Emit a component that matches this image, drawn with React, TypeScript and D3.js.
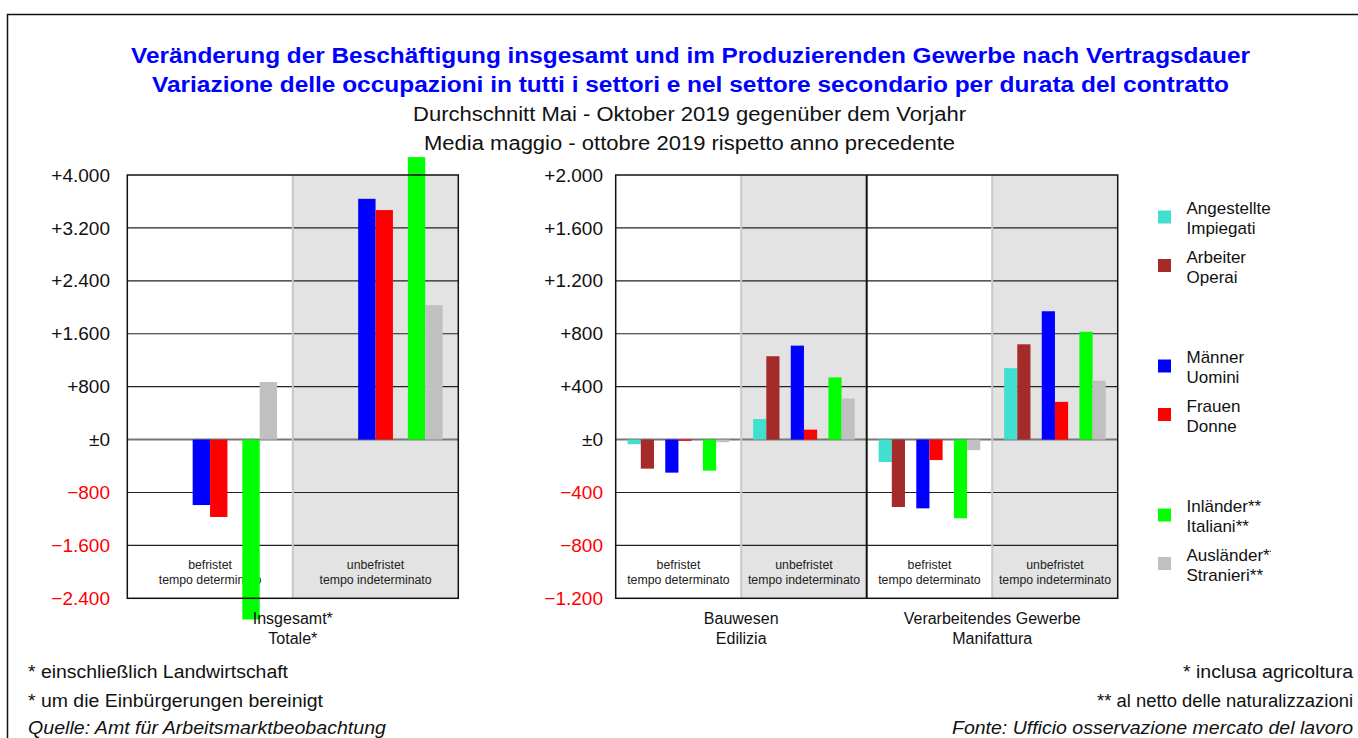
import { formatLocale, range, scaleBand, scaleLinear } from 'd3'

const contractTypes = ['befristet', 'unbefristet']
const contractLabelsDe = ['befristet', 'unbefristet']
const contractLabelsIt = ['tempo determinato', 'tempo indeterminato']

const seriesKeys = ['angestellte', 'arbeiter', 'maenner', 'frauen', 'inlaender', 'auslaender']
const seriesColors = ['#40e0d0', '#a52a2a', '#0000ff', '#ff0000', '#00ff00', '#c0c0c0']
const seriesLabelsDe = ['Angestellte', 'Arbeiter', 'Männer', 'Frauen', 'Inländer**', 'Ausländer**']
const seriesLabelsIt = ['Impiegati', 'Operai', 'Uomini', 'Donne', 'Italiani**', 'Stranieri**']
const pairKeys = ['beruf', 'geschlecht', 'herkunft']

// Insgesamt: befristet, unbefristet
const totalMaenner = [-990, 3640]
const totalFrauen = [-1170, 3470]
const totalInlaender = [-2720, 4270]
const totalAuslaender = [870, 2030]

// Bauwesen
const bauAngestellte = [-35, 155]
const bauArbeiter = [-220, 630]
const bauMaenner = [-250, 710]
const bauFrauen = [-10, 75]
const bauInlaender = [-235, 470]
const bauAuslaender = [-20, 310]

// Verarbeitendes Gewerbe
const manAngestellte = [-170, 540]
const manArbeiter = [-510, 720]
const manMaenner = [-520, 970]
const manFrauen = [-155, 285]
const manInlaender = [-595, 815]
const manAuslaender = [-80, 445]

const leftTicks = range(-2400, 4001, 800)
const rightTicks = range(-1200, 2001, 400)

type SeriesValues = (readonly number[] | null)[]

type Sector = {
  key: string
  labelDe: string
  labelIt: string
  values: SeriesValues
}

const totalSector: Sector = {
  key: 'total',
  labelDe: 'Insgesamt*',
  labelIt: 'Totale*',
  values: [null, null, totalMaenner, totalFrauen, totalInlaender, totalAuslaender],
}

const rightSectors: Sector[] = [
  {
    key: 'bau',
    labelDe: 'Bauwesen',
    labelIt: 'Edilizia',
    values: [bauAngestellte, bauArbeiter, bauMaenner, bauFrauen, bauInlaender, bauAuslaender],
  },
  {
    key: 'man',
    labelDe: 'Verarbeitendes Gewerbe',
    labelIt: 'Manifattura',
    values: [manAngestellte, manArbeiter, manMaenner, manFrauen, manInlaender, manAuslaender],
  },
]

const locale = formatLocale({ decimal: ',', thousands: '.', grouping: [3], currency: ['', ''] })
const signed = locale.format('+,')
const tickLabel = (v: number) => (v === 0 ? '±0' : signed(v))

const FONT = '"Liberation Sans", Arial, Helvetica, sans-serif'
const TOP = 175
const BOTTOM = 598.3

type PanelProps = {
  x0: number
  x1: number
  ticks: number[]
  sectors: Sector[]
  labelX: number
}

function Panel({ x0, x1, ticks, sectors, labelX }: PanelProps) {
  const yScale = scaleLinear()
    .domain([ticks[0], ticks[ticks.length - 1]])
    .range([BOTTOM, TOP])
  const cells = sectors.flatMap((s) => contractTypes.map((c) => `${s.key}-${c}`))
  const xBand = scaleBand<string>().domain(cells).range([x0, x1])
  const bw = xBand.bandwidth()
  const pairScale = scaleBand<string>().domain(pairKeys).range([0, bw]).paddingInner(0.3).paddingOuter(0.3167)
  const barScale = scaleBand<string>().domain(['a', 'b']).range([0, pairScale.bandwidth()])
  const zero = yScale(0)

  return (
    <g>
      {cells.map((cell, i) => (
        <rect
          key={cell}
          x={xBand(cell)}
          y={TOP}
          width={bw}
          height={BOTTOM - TOP}
          fill={i % 2 === 1 ? '#e3e3e3' : '#ffffff'}
        />
      ))}
      {ticks.slice(1, -1).map((t) => (
        <line
          key={t}
          x1={x0}
          x2={x1}
          y1={yScale(t)}
          y2={yScale(t)}
          stroke={t === 0 ? '#777777' : '#222222'}
          strokeWidth={t === 0 ? 2 : 1.2}
        />
      ))}
      {cells.slice(1).map((cell, i) => (
        <line
          key={cell}
          x1={xBand(cell)}
          x2={xBand(cell)}
          y1={TOP}
          y2={BOTTOM}
          stroke={i % 2 === 0 ? '#c8c8c8' : '#111111'}
          strokeWidth={2}
        />
      ))}
      {cells.map((cell, ci) => (
        <g key={cell}>
          <text x={(xBand(cell) ?? 0) + bw / 2} y={569} textAnchor="middle" fontSize={12.3} fill="#222">
            {contractLabelsDe[ci % 2]}
          </text>
          <text x={(xBand(cell) ?? 0) + bw / 2} y={584} textAnchor="middle" fontSize={12.3} fill="#222">
            {contractLabelsIt[ci % 2]}
          </text>
        </g>
      ))}
      {sectors.map((s, si) =>
        contractTypes.map((c, ci) => {
          const cx = xBand(`${s.key}-${c}`) ?? 0
          return seriesKeys.map((k, ki) => {
            const vals = s.values[ki]
            if (!vals) return null
            const v = vals[ci]
            const px = cx + (pairScale(pairKeys[Math.floor(ki / 2)]) ?? 0) + (barScale(ki % 2 === 0 ? 'a' : 'b') ?? 0)
            const y = yScale(v)
            return (
              <rect
                key={`${si}-${c}-${k}`}
                x={px}
                y={Math.min(y, zero)}
                width={barScale.bandwidth()}
                height={Math.abs(y - zero)}
                fill={seriesColors[ki]}
              />
            )
          })
        })
      )}
      <rect x={x0} y={TOP} width={x1 - x0} height={BOTTOM - TOP} fill="none" stroke="#111" strokeWidth={1.5} />
      {ticks.map((t) => (
        <text
          key={t}
          x={labelX}
          y={yScale(t)}
          dy="0.35em"
          textAnchor="end"
          fontSize={19}
          fill={t < 0 ? '#ff0000' : '#111'}
        >
          {tickLabel(t)}
        </text>
      ))}
      {sectors.map((s) => {
        const mid = ((xBand(`${s.key}-befristet`) ?? 0) + (xBand(`${s.key}-unbefristet`) ?? 0) + bw) / 2
        return (
          <g key={s.key} fontSize={16} fill="#111" textAnchor="middle">
            <text x={mid} y={624}>
              {s.labelDe}
            </text>
            <text x={mid} y={644}>
              {s.labelIt}
            </text>
          </g>
        )
      })}
    </g>
  )
}

export default function App() {
  const legendY = (i: number) => 217 + Math.floor(i / 2) * 149 + (i % 2) * 48.5
  return (
    <svg
      width={1358}
      height={738}
      viewBox="0 0 1358 738"
      style={{ position: 'absolute', left: 0, top: 0, fontFamily: FONT, background: '#fff' }}
    >
      <defs>
        <clipPath id="legend-clip">
          <rect x={1140} y={180} width={131} height={420} />
        </clipPath>
      </defs>
      <rect x={0} y={0} width={1358} height={738} fill="#fff" />
      <path d="M7.5,738 V14.5 H1358" fill="none" stroke="#111" strokeWidth={1.5} />

      <g textAnchor="middle">
        <text x={690.5} y={63} fontSize={22} fontWeight="bold" fill="#0000ff" textLength={1119} lengthAdjust="spacingAndGlyphs">
          Veränderung der Beschäftigung insgesamt und im Produzierenden Gewerbe nach Vertragsdauer
        </text>
        <text x={690.5} y={92} fontSize={22} fontWeight="bold" fill="#0000ff" textLength={1077} lengthAdjust="spacingAndGlyphs">
          Variazione delle occupazioni in tutti i settori e nel settore secondario per durata del contratto
        </text>
        <text x={689.5} y={121} fontSize={20} fill="#111" textLength={553} lengthAdjust="spacingAndGlyphs">
          Durchschnitt Mai - Oktober 2019 gegenüber dem Vorjahr
        </text>
        <text x={689.5} y={150} fontSize={20} fill="#111" textLength={531} lengthAdjust="spacingAndGlyphs">
          Media maggio - ottobre 2019 rispetto anno precedente
        </text>
      </g>

      <Panel x0={127.3} x1={458.3} ticks={leftTicks} sectors={[totalSector]} labelX={110} />
      <Panel x0={615.7} x1={1117.7} ticks={rightTicks} sectors={rightSectors} labelX={603} />

      <g clipPath="url(#legend-clip)">
        {seriesKeys.map((k, i) => (
          <g key={k}>
            <rect x={1158} y={legendY(i) - 6.5} width={13} height={13} fill={seriesColors[i]} />
            <text x={1186.5} y={legendY(i) - 3} fontSize={17} fill="#111">
              {seriesLabelsDe[i]}
            </text>
            <text x={1186.5} y={legendY(i) + 17} fontSize={17} fill="#111">
              {seriesLabelsIt[i]}
            </text>
          </g>
        ))}
      </g>

      <g fontSize={18} fill="#111">
        <text x={28} y={678} textLength={260} lengthAdjust="spacingAndGlyphs">
          * einschließlich Landwirtschaft
        </text>
        <text x={28} y={706.5} textLength={295} lengthAdjust="spacingAndGlyphs">
          * um die Einbürgerungen bereinigt
        </text>
        <text x={28} y={734} fontStyle="italic" textLength={358} lengthAdjust="spacingAndGlyphs">
          Quelle: Amt für Arbeitsmarktbeobachtung
        </text>
        <text x={1353} y={678} textAnchor="end" textLength={170} lengthAdjust="spacingAndGlyphs">
          * inclusa agricoltura
        </text>
        <text x={1353} y={706.5} textAnchor="end" textLength={256} lengthAdjust="spacingAndGlyphs">
          ** al netto delle naturalizzazioni
        </text>
        <text x={1353} y={734} textAnchor="end" fontStyle="italic" textLength={401} lengthAdjust="spacingAndGlyphs">
          Fonte: Ufficio osservazione mercato del lavoro
        </text>
      </g>
    </svg>
  )
}
